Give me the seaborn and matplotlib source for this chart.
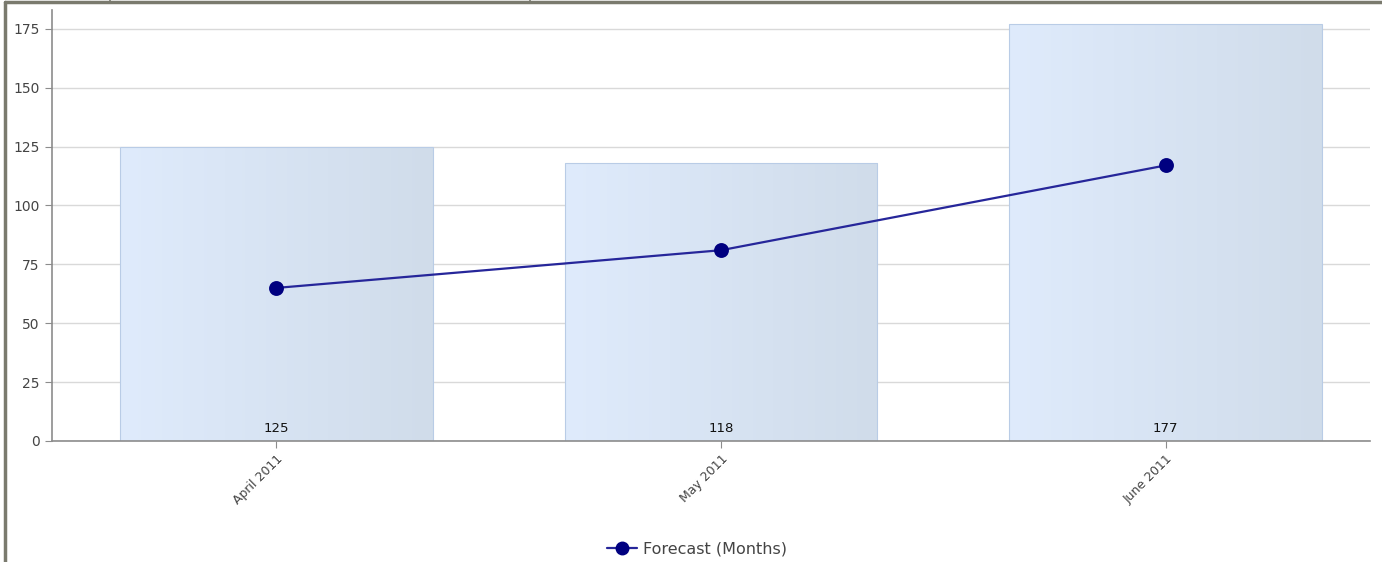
import numpy as np
import pandas as pd
import matplotlib
matplotlib.use("Agg")
import matplotlib.pyplot as plt
import seaborn as sns
from matplotlib.lines import Line2D

months = ["April 2011", "May 2011", "June 2011"]
totals = [125, 118, 177]
forecast = [65, 81, 117]

df = pd.DataFrame({"month": months, "total": totals, "forecast": forecast})

sns.set_style("white")
plt.rcParams['font.family'] = ['DejaVu Sans']

fig = plt.figure(figsize=(13.82, 5.62), dpi=100)
ax = fig.add_axes([52 / 1382, 1 - 441 / 562, (1370 - 52) / 1382, (441 - 10) / 562])

sns.barplot(data=df, x="month", y="total", ax=ax, width=0.704,
            color="#d8e4f6", edgecolor="#b9cce6", linewidth=0.8, zorder=2)

# horizontal gradient inside each bar
grad = np.linspace(0, 1, 256).reshape(1, -1)
cmap = matplotlib.colors.LinearSegmentedColormap.from_list("bar", ["#dfebfc", "#d0dcea"])
for p in ax.patches:
    x0, y0 = p.get_x(), p.get_y()
    w, h = p.get_width(), p.get_height()
    im = ax.imshow(grad, cmap=cmap, aspect="auto", extent=(x0, x0 + w, y0, y0 + h),
                   zorder=2.1, interpolation="bilinear")
    im.set_clip_path(p)
    p.set_facecolor("none")
    p.set_zorder(2.2)

for i, v in enumerate(totals):
    ax.text(i, 2.6, str(v), ha="center", va="bottom", fontsize=9.5, color="#111111", zorder=4)

sns.pointplot(data=df, x="month", y="forecast", ax=ax, color="#000080",
              markersize=9.5, linewidth=1.6, zorder=5)
for ln in ax.lines:
    ln.set_color("#26269a")
    ln.set_markerfacecolor("#000080")
    ln.set_markeredgecolor("#000080")
    ln.set_zorder(5)

ax.set_xlim(-0.505, 2.46)
ax.set_ylim(0, 183)
ax.set_yticks(np.arange(0, 176, 25))
ax.yaxis.grid(True, color="#d9d9d9", linewidth=1.0, zorder=0)
ax.set_axisbelow(True)
ax.set_xlabel("")
ax.set_ylabel("")

for s in ["top", "right"]:
    ax.spines[s].set_visible(False)
for s in ["left", "bottom"]:
    ax.spines[s].set_color("#8c8c8c")
    ax.spines[s].set_linewidth(1.2)

ax.tick_params(axis="y", length=5, color="#8c8c8c", labelsize=10, labelcolor="#444444", pad=4, left=True)
ax.tick_params(axis="x", length=5, color="#8c8c8c", labelsize=9, labelcolor="#444444", pad=3, bottom=True)
plt.setp(ax.get_xticklabels(), rotation=45, ha="right", rotation_mode="anchor")

handle = Line2D([], [], color="#26269a", marker="o", markersize=9, linewidth=1.6,
                markerfacecolor="#000080", markeredgecolor="#000080")
fig.legend([handle], ["Forecast (Months)"], loc="center", bbox_to_anchor=(697 / 1382, 1 - 549 / 562),
           frameon=False, fontsize=11.5, handlelength=1.9, handletextpad=0.35,
           labelcolor="#444444")

# outer frame strokes
frame = "#7a7a6e"
fig.add_artist(Line2D([5 / 1382, 5 / 1382], [0, 1 - 2 / 562], color=frame, linewidth=2.5,
                      transform=fig.transFigure))
fig.add_artist(Line2D([5 / 1382, 1], [1 - 2 / 562, 1 - 2 / 562], color=frame, linewidth=2.5,
                      transform=fig.transFigure))
for xp in [110, 530]:
    fig.add_artist(Line2D([xp / 1382, xp / 1382], [1 - 2 / 562, 1], color=frame, linewidth=1.2,
                          transform=fig.transFigure))

fig.savefig("out.png", dpi=100)
